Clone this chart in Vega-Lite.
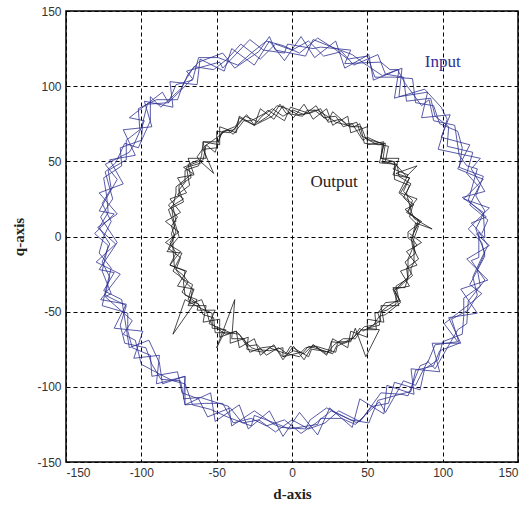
{
"$schema":"https://vega.github.io/schema/vega-lite/v6.json",
"autosize":"none","width":452,"height":451,
"padding":{"left":66,"top":11,"right":13,"bottom":44},
"background":"white",
"config":{"view":{"stroke":"#000","strokeWidth":1.5},
"axis":{"grid":true,"gridColor":"#000","gridDash":[4,3],"gridWidth":1,"gridOpacity":1,"ticks":false,"domain":false,"labelFont":"Liberation Sans","labelFontSize":12,"labelColor":"#333","labelPadding":5,"labelExpr":"'' + datum.value","titleFont":"Liberation Serif","titleFontSize":15,"titleFontWeight":"bold","titleColor":"#222"}},
"datasets":{
"inp":[
{"d":126,"q":2},{"d":130,"q":11},{"d":118,"q":21},{"d":124,"q":33},{"d":116,"q":42},{"d":120,"q":56},{"d":103,"q":60},{"d":104,"q":73},{"d":95,"q":80},{"d":92,"q":92},{"d":76,"q":90},{"d":74,"q":106},{"d":62,"q":108},{"d":57,"q":121},{"d":41,"q":114},{"d":33,"q":123},{"d":21,"q":120},{"d":11,"q":130},{"d":0,"q":124},{"d":-11,"q":128},{"d":-21,"q":118},{"d":-34,"q":128},{"d":-43,"q":118},{"d":-52,"q":111},{"d":-65,"q":113},{"d":-72,"q":102},{"d":-76,"q":91},{"d":-90,"q":91},{"d":-102,"q":85},{"d":-101,"q":71},{"d":-110,"q":64},{"d":-110,"q":51},{"d":-122,"q":44},{"d":-120,"q":32},{"d":-126,"q":22},{"d":-120,"q":10},{"d":-125,"q":0},{"d":-128,"q":-11},{"d":-120,"q":-21},{"d":-123,"q":-33},{"d":-126,"q":-46},{"d":-109,"q":-51},{"d":-109,"q":-63},{"d":-106,"q":-74},{"d":-94,"q":-79},{"d":-93,"q":-93},{"d":-76,"q":-90},{"d":-73,"q":-104},{"d":-62,"q":-108},{"d":-56,"q":-120},{"d":-41,"q":-114},{"d":-33,"q":-124},{"d":-22,"q":-122},{"d":-11,"q":-130},{"d":0,"q":-122},{"d":11,"q":-128},{"d":22,"q":-124},{"d":31,"q":-116},{"d":45,"q":-123},{"d":53,"q":-113},{"d":64,"q":-111},{"d":68,"q":-97},{"d":85,"q":-102},{"d":88,"q":-88},{"d":97,"q":-82},{"d":100,"q":-70},{"d":113,"q":-65},{"d":114,"q":-53},{"d":114,"q":-41},{"d":125,"q":-33},{"d":123,"q":-22},{"d":128,"q":-11},
{"d":122,"q":5},{"d":128,"q":17},{"d":122,"q":27},{"d":127,"q":40},{"d":111,"q":46},{"d":113,"q":59},{"d":110,"q":70},{"d":98,"q":75},{"d":94,"q":87},{"d":82,"q":89},{"d":80,"q":105},{"d":68,"q":106},{"d":55,"q":106},{"d":50,"q":120},{"d":37,"q":118},{"d":28,"q":125},{"d":17,"q":132},{"d":5,"q":122},{"d":-6,"q":127},{"d":-17,"q":130},{"d":-27,"q":122},{"d":-36,"q":114},{"d":-49,"q":119},{"d":-62,"q":119},{"d":-66,"q":104},{"d":-77,"q":101},{"d":-82,"q":89},{"d":-96,"q":88},{"d":-99,"q":76},{"d":-100,"q":64},{"d":-114,"q":59},{"d":-113,"q":47},{"d":-125,"q":39},{"d":-123,"q":27},{"d":-122,"q":16},{"d":-128,"q":6},{"d":-121,"q":-5},{"d":-126,"q":-17},{"d":-121,"q":-27},{"d":-124,"q":-39},{"d":-110,"q":-46},{"d":-114,"q":-59},{"d":-111,"q":-71},{"d":-97,"q":-74},{"d":-93,"q":-85},{"d":-87,"q":-95},{"d":-74,"q":-96},{"d":-71,"q":-112},{"d":-58,"q":-111},{"d":-46,"q":-111},{"d":-39,"q":-124},{"d":-27,"q":-121},{"d":-17,"q":-126},{"d":-5,"q":-122},{"d":6,"q":-131},{"d":16,"q":-124},{"d":26,"q":-116},{"d":39,"q":-122},{"d":51,"q":-124},{"d":57,"q":-109},{"d":68,"q":-106},{"d":79,"q":-103},{"d":82,"q":-89},{"d":94,"q":-86},{"d":98,"q":-76},{"d":111,"q":-71},{"d":106,"q":-55},{"d":117,"q":-49},{"d":123,"q":-39},{"d":120,"q":-27},{"d":125,"q":-16},{"d":130,"q":-6},{"d":124,"q":3},
{"d":124,"q":-14},{"d":119,"q":-16},{"d":128,"q":-29},{"d":117,"q":-43},{"d":116,"q":-58},{"d":110,"q":-62},{"d":106,"q":-69},{"d":95,"q":-88},{"d":90,"q":-83},{"d":82,"q":-99},{"d":74,"q":-96},{"d":62,"q":-117},{"d":58,"q":-110},{"d":42,"q":-125},{"d":33,"q":-121},{"d":19,"q":-121},{"d":17,"q":-125},{"d":-2,"q":-128},{"d":-9,"q":-125},{"d":-25,"q":-119},{"d":-27,"q":-126},{"d":-43,"q":-120},{"d":-54,"q":-115},{"d":-66,"q":-112},{"d":-71,"q":-98},{"d":-79,"q":-96},{"d":-87,"q":-92},{"d":-100,"q":-85},{"d":-104,"q":-69},{"d":-112,"q":-65},{"d":-106,"q":-56},{"d":-124,"q":-40},{"d":-120,"q":-38},{"d":-126,"q":-23},{"d":-122,"q":-6},{"d":-131,"q":2},{"d":-118,"q":15},{"d":-128,"q":17},{"d":-116,"q":38},{"d":-124,"q":48},{"d":-108,"q":56},{"d":-105,"q":61},{"d":-98,"q":77},{"d":-108,"q":79},{"d":-86,"q":96},{"d":-82,"q":89},{"d":-66,"q":105},{"d":-70,"q":110},{"d":-48,"q":116},{"d":-46,"q":112},{"d":-28,"q":131},{"d":-19,"q":124},{"d":-5,"q":122},{"d":-3,"q":128},{"d":14,"q":125},{"d":19,"q":126},{"d":39,"q":124},{"d":35,"q":115},{"d":59,"q":116},{"d":65,"q":111},{"d":71,"q":111},{"d":68,"q":92},{"d":88,"q":98},{"d":99,"q":86},{"d":103,"q":78},{"d":97,"q":58},{"d":125,"q":52},{"d":119,"q":45},{"d":128,"q":30},{"d":113,"q":26},{"d":127,"q":16},{"d":128,"q":-1},
{"d":119,"q":9},{"d":129,"q":13},{"d":117,"q":24},{"d":123,"q":45},{"d":116,"q":47},{"d":111,"q":54},{"d":108,"q":74},{"d":94,"q":77},{"d":91,"q":91},{"d":86,"q":87},{"d":75,"q":102},{"d":70,"q":111},{"d":60,"q":107},{"d":48,"q":115},{"d":40,"q":121},{"d":24,"q":127},{"d":14,"q":131},{"d":9,"q":120},{"d":-11,"q":124},{"d":-15,"q":133},{"d":-22,"q":123},{"d":-38,"q":112},{"d":-46,"q":122},{"d":-62,"q":116},{"d":-69,"q":108},{"d":-73,"q":99},{"d":-87,"q":86},{"d":-94,"q":93},{"d":-94,"q":77},{"d":-102,"q":59},{"d":-111,"q":62},{"d":-117,"q":49},{"d":-124,"q":43},{"d":-119,"q":25},{"d":-127,"q":13},{"d":-126,"q":11},{"d":-116,"q":-4},{"d":-128,"q":-22},{"d":-118,"q":-24},{"d":-125,"q":-36},{"d":-113,"q":-42},{"d":-110,"q":-61},{"d":-108,"q":-74},{"d":-95,"q":-69},{"d":-88,"q":-84},{"d":-86,"q":-98},{"d":-71,"q":-93},{"d":-72,"q":-108},{"d":-61,"q":-107},{"d":-42,"q":-113},{"d":-40,"q":-126},{"d":-25,"q":-116},{"d":-12,"q":-125},{"d":-7,"q":-127},{"d":9,"q":-128},{"d":12,"q":-122},{"d":23,"q":-114},{"d":43,"q":-124},{"d":46,"q":-122},{"d":59,"q":-104},{"d":73,"q":-105},{"d":77,"q":-106},{"d":85,"q":-86},{"d":90,"q":-84},{"d":95,"q":-72},{"d":110,"q":-70},{"d":101,"q":-58},{"d":119,"q":-44},{"d":126,"q":-38},{"d":118,"q":-32},{"d":128,"q":-13},{"d":126,"q":-4},
{"d":117,"q":5},{"d":131,"q":19},{"d":114,"q":25},{"d":127,"q":38},{"d":110,"q":45},{"d":118,"q":61},{"d":99,"q":66},{"d":105,"q":81},{"d":86,"q":79},{"d":90,"q":96},{"d":71,"q":93},{"d":73,"q":112},{"d":54,"q":104},{"d":51,"q":121},{"d":35,"q":112},{"d":29,"q":130},{"d":15,"q":119},{"d":6,"q":133},{"d":-5,"q":117},{"d":-15,"q":130},{"d":-25,"q":114},{"d":-40,"q":125},{"d":-45,"q":110},{"d":-61,"q":118},{"d":-63,"q":101},{"d":-81,"q":103},{"d":-79,"q":86},{"d":-98,"q":90},{"d":-93,"q":73},{"d":-112,"q":71},{"d":-104,"q":54},{"d":-121,"q":51},{"d":-112,"q":35},{"d":-128,"q":29},{"d":-116,"q":15},{"d":-129,"q":6},{"d":-117,"q":-5},{"d":-130,"q":-17},{"d":-114,"q":-25},{"d":-127,"q":-42},{"d":-110,"q":-45},{"d":-118,"q":-61},{"d":-99,"q":-63},{"d":-105,"q":-81},{"d":-88,"q":-79},{"d":-90,"q":-98},{"d":-71,"q":-93},{"d":-71,"q":-112},{"d":-54,"q":-104},{"d":-51,"q":-123},{"d":-35,"q":-112},{"d":-29,"q":-128},{"d":-15,"q":-116},{"d":-6,"q":-133},{"d":5,"q":-117},{"d":17,"q":-132},{"d":25,"q":-114},{"d":40,"q":-127},{"d":45,"q":-108},{"d":61,"q":-118},{"d":63,"q":-99},{"d":81,"q":-105},{"d":79,"q":-88},{"d":98,"q":-90},{"d":93,"q":-71},{"d":112,"q":-71},{"d":104,"q":-54},{"d":123,"q":-51},{"d":112,"q":-35},{"d":130,"q":-29},{"d":116,"q":-15},{"d":131,"q":-6},{"d":122,"q":2}
],
"out":[
{"d":81,"q":3},{"d":85,"q":10},{"d":77,"q":16},{"d":80,"q":24},{"d":74,"q":30},{"d":78,"q":39},{"d":69,"q":42},{"d":83,"q":47},{"d":76,"q":40},{"d":67,"q":50},{"d":59,"q":52},{"d":60,"q":62},{"d":52,"q":64},{"d":46,"q":67},{"d":43,"q":76},{"d":34,"q":73},{"d":29,"q":80},{"d":21,"q":79},{"d":16,"q":87},{"d":8,"q":81},{"d":1,"q":84},{"d":-6,"q":80},{"d":-13,"q":85},{"d":-20,"q":80},{"d":-25,"q":74},{"d":-35,"q":79},{"d":-38,"q":71},{"d":-46,"q":70},{"d":-49,"q":63},{"d":-59,"q":63},{"d":-60,"q":54},{"d":-62,"q":47},{"d":-71,"q":44},{"d":-71,"q":36},{"d":-75,"q":31},{"d":-72,"q":23},{"d":-82,"q":18},{"d":-79,"q":10},{"d":-77,"q":3},{"d":-81,"q":-4},{"d":-77,"q":-11},{"d":-81,"q":-19},{"d":-71,"q":-23},{"d":-72,"q":-31},{"d":-71,"q":-39},{"d":-63,"q":-42},{"d":-79,"q":-65},{"d":-71,"q":-42},{"d":-60,"q":-48},{"d":-53,"q":-51},{"d":-53,"q":-61},{"d":-44,"q":-62},{"d":-50,"q":-74},{"d":-38,"q":-42},{"d":-40,"q":-68},{"d":-32,"q":-68},{"d":-28,"q":-77},{"d":-20,"q":-74},{"d":-12,"q":-73},{"d":-6,"q":-80},{"d":1,"q":-76},{"d":8,"q":-78},{"d":14,"q":-72},{"d":23,"q":-78},{"d":28,"q":-72},{"d":34,"q":-68},{"d":42,"q":-68},{"d":46,"q":-62},{"d":56,"q":-62},{"d":55,"q":-51},{"d":63,"q":-49},{"d":69,"q":-45},{"d":69,"q":-36},{"d":74,"q":-31},{"d":80,"q":-26},{"d":75,"q":-17},{"d":82,"q":-11},{"d":80,"q":-4},
{"d":84,"q":7},{"d":78,"q":13},{"d":80,"q":20},{"d":74,"q":26},{"d":79,"q":35},{"d":71,"q":40},{"d":70,"q":47},{"d":62,"q":50},{"d":64,"q":60},{"d":55,"q":62},{"d":49,"q":65},{"d":46,"q":73},{"d":38,"q":73},{"d":32,"q":78},{"d":24,"q":76},{"d":19,"q":85},{"d":12,"q":82},{"d":4,"q":81},{"d":-3,"q":85},{"d":-10,"q":87},{"d":-16,"q":80},{"d":-22,"q":76},{"d":-31,"q":80},{"d":-36,"q":74},{"d":-41,"q":69},{"d":-50,"q":70},{"d":-50,"q":59},{"d":-59,"q":58},{"d":-52,"q":42},{"d":-62,"q":51},{"d":-69,"q":48},{"d":-67,"q":39},{"d":-75,"q":34},{"d":-75,"q":27},{"d":-82,"q":21},{"d":-76,"q":13},{"d":-80,"q":7},{"d":-78,"q":0},{"d":-82,"q":-8},{"d":-74,"q":-14},{"d":-77,"q":-22},{"d":-73,"q":-28},{"d":-66,"q":-32},{"d":-69,"q":-42},{"d":-62,"q":-45},{"d":-59,"q":-52},{"d":-52,"q":-54},{"d":-51,"q":-64},{"d":-42,"q":-64},{"d":-35,"q":-65},{"d":-30,"q":-73},{"d":-23,"q":-72},{"d":-17,"q":-79},{"d":-9,"q":-74},{"d":-3,"q":-78},{"d":5,"q":-80},{"d":11,"q":-73},{"d":18,"q":-75},{"d":27,"q":-78},{"d":31,"q":-70},{"d":39,"q":-70},{"d":42,"q":-61},{"d":49,"q":-80},{"d":58,"q":-62},{"d":50,"q":-61},{"d":58,"q":-59},{"d":59,"q":-50},{"d":64,"q":-46},{"d":71,"q":-42},{"d":69,"q":-33},{"d":77,"q":-28},{"d":76,"q":-21},{"d":84,"q":-15},{"d":80,"q":-7},{"d":79,"q":0},
{"d":83,"q":-6},{"d":80,"q":-8},{"d":77,"q":-15},{"d":77,"q":-27},{"d":75,"q":-34},{"d":67,"q":-34},{"d":72,"q":-44},{"d":62,"q":-52},{"d":58,"q":-53},{"d":54,"q":-59},{"d":48,"q":-60},{"d":39,"q":-69},{"d":35,"q":-71},{"d":26,"q":-70},{"d":26,"q":-77},{"d":13,"q":-75},{"d":11,"q":-80},{"d":-1,"q":-73},{"d":-4,"q":-78},{"d":-15,"q":-74},{"d":-19,"q":-77},{"d":-30,"q":-75},{"d":-29,"q":-67},{"d":-41,"q":-71},{"d":-41,"q":-64},{"d":-55,"q":-58},{"d":-51,"q":-49},{"d":-63,"q":-49},{"d":-62,"q":-45},{"d":-73,"q":-37},{"d":-69,"q":-30},{"d":-72,"q":-26},{"d":-78,"q":-21},{"d":-79,"q":-8},{"d":-79,"q":-2},{"d":-80,"q":2},{"d":-78,"q":7},{"d":-80,"q":20},{"d":-72,"q":25},{"d":-76,"q":28},{"d":-68,"q":34},{"d":-70,"q":46},{"d":-60,"q":49},{"d":-63,"q":53},{"d":-58,"q":60},{"d":-51,"q":65},{"d":-43,"q":71},{"d":-39,"q":68},{"d":-32,"q":77},{"d":-27,"q":77},{"d":-18,"q":82},{"d":-16,"q":84},{"d":-5,"q":77},{"d":-1,"q":86},{"d":11,"q":82},{"d":15,"q":84},{"d":24,"q":77},{"d":27,"q":83},{"d":36,"q":75},{"d":40,"q":75},{"d":47,"q":64},{"d":50,"q":66},{"d":61,"q":61},{"d":58,"q":49},{"d":70,"q":48},{"d":67,"q":45},{"d":77,"q":41},{"d":71,"q":29},{"d":81,"q":21},{"d":75,"q":18},{"d":84,"q":11},{"d":80,"q":0},
{"d":82,"q":9},{"d":93,"q":5},{"d":81,"q":12},{"d":79,"q":17},{"d":76,"q":29},{"d":78,"q":34},{"d":68,"q":38},{"d":68,"q":50},{"d":60,"q":49},{"d":62,"q":62},{"d":58,"q":61},{"d":48,"q":62},{"d":45,"q":75},{"d":41,"q":73},{"d":29,"q":76},{"d":25,"q":79},{"d":17,"q":84},{"d":10,"q":84},{"d":7,"q":80},{"d":-4,"q":82},{"d":-8,"q":88},{"d":-13,"q":80},{"d":-25,"q":74},{"d":-30,"q":81},{"d":-38,"q":73},{"d":-43,"q":71},{"d":-47,"q":69},{"d":-51,"q":56},{"d":-57,"q":61},{"d":-59,"q":51},{"d":-72,"q":46},{"d":-66,"q":42},{"d":-77,"q":33},{"d":-77,"q":29},{"d":-79,"q":20},{"d":-77,"q":10},{"d":-78,"q":10},{"d":-75,"q":0},{"d":-83,"q":-10},{"d":-73,"q":-11},{"d":-79,"q":-23},{"d":-75,"q":-26},{"d":-66,"q":-35},{"d":-68,"q":-45},{"d":-60,"q":-42},{"d":-56,"q":-52},{"d":-55,"q":-56},{"d":-50,"q":-61},{"d":-44,"q":-65},{"d":-37,"q":-63},{"d":-27,"q":-74},{"d":-24,"q":-75},{"d":-15,"q":-76},{"d":-6,"q":-74},{"d":-6,"q":-80},{"d":6,"q":-77},{"d":9,"q":-74},{"d":16,"q":-73},{"d":29,"q":-77},{"d":30,"q":-73},{"d":41,"q":-67},{"d":45,"q":-61},{"d":47,"q":-63},{"d":59,"q":-56},{"d":57,"q":-51},{"d":62,"q":-44},{"d":72,"q":-43},{"d":68,"q":-36},{"d":79,"q":-25},{"d":79,"q":-21},{"d":81,"q":-17},{"d":81,"q":-4},{"d":77,"q":-1},
{"d":77,"q":3},{"d":86,"q":10},{"d":76,"q":16},{"d":83,"q":25},{"d":72,"q":29},{"d":78,"q":39},{"d":67,"q":41},{"d":71,"q":52},{"d":59,"q":52},{"d":61,"q":63},{"d":50,"q":61},{"d":50,"q":73},{"d":39,"q":69},{"d":37,"q":80},{"d":27,"q":74},{"d":23,"q":85},{"d":14,"q":78},{"d":8,"q":88},{"d":1,"q":79},{"d":-6,"q":87},{"d":-12,"q":78},{"d":-21,"q":85},{"d":-25,"q":74},{"d":-35,"q":80},{"d":-37,"q":69},{"d":-48,"q":73},{"d":-48,"q":61},{"d":-59,"q":63},{"d":-57,"q":52},{"d":-69,"q":52},{"d":-65,"q":41},{"d":-76,"q":39},{"d":-70,"q":29},{"d":-81,"q":25},{"d":-74,"q":16},{"d":-84,"q":10},{"d":-75,"q":3},{"d":-84,"q":-4},{"d":-74,"q":-10},{"d":-81,"q":-19},{"d":-70,"q":-23},{"d":-76,"q":-33},{"d":-65,"q":-35},{"d":-69,"q":-46},{"d":-57,"q":-46},{"d":-59,"q":-57},{"d":-48,"q":-55},{"d":-48,"q":-67},{"d":-37,"q":-63},{"d":-35,"q":-74},{"d":-25,"q":-68},{"d":-21,"q":-79},{"d":-12,"q":-72},{"d":-6,"q":-82},{"d":1,"q":-73},{"d":8,"q":-82},{"d":14,"q":-72},{"d":23,"q":-79},{"d":27,"q":-68},{"d":37,"q":-74},{"d":39,"q":-63},{"d":50,"q":-67},{"d":50,"q":-55},{"d":61,"q":-57},{"d":59,"q":-46},{"d":71,"q":-46},{"d":67,"q":-35},{"d":78,"q":-33},{"d":72,"q":-23},{"d":83,"q":-19},{"d":76,"q":-10},{"d":86,"q":-4},{"d":78,"q":2}
],
"labels":[{"t":"Input","d":100,"q":116,"c":"#2E3192"},{"t":"Output","d":28,"q":36,"c":"#222"}]
},
"layer":[
{"data":{"name":"inp"},"mark":{"type":"line","color":"#2E3192","strokeWidth":0.8},
"encoding":{"x":{"field":"d","type":"quantitative","scale":{"domain":[-150,150],"nice":false},"axis":{"values":[-150,-100,-50,0,50,100,150],"title":"d-axis","titlePadding":8}},
"y":{"field":"q","type":"quantitative","scale":{"domain":[-150,150],"nice":false},"axis":{"values":[-150,-100,-50,0,50,100,150],"title":"q-axis","titlePadding":10}},
"order":{"value":null}}},
{"data":{"name":"out"},"mark":{"type":"line","color":"#1a1a1a","strokeWidth":0.8},
"encoding":{"x":{"field":"d","type":"quantitative"},"y":{"field":"q","type":"quantitative"},"order":{"value":null}}},
{"data":{"name":"labels"},"mark":{"type":"text","font":"Liberation Serif","fontSize":17},
"encoding":{"x":{"field":"d","type":"quantitative"},"y":{"field":"q","type":"quantitative"},"text":{"field":"t"},"color":{"field":"c","type":"nominal","scale":null}}}
]
}
